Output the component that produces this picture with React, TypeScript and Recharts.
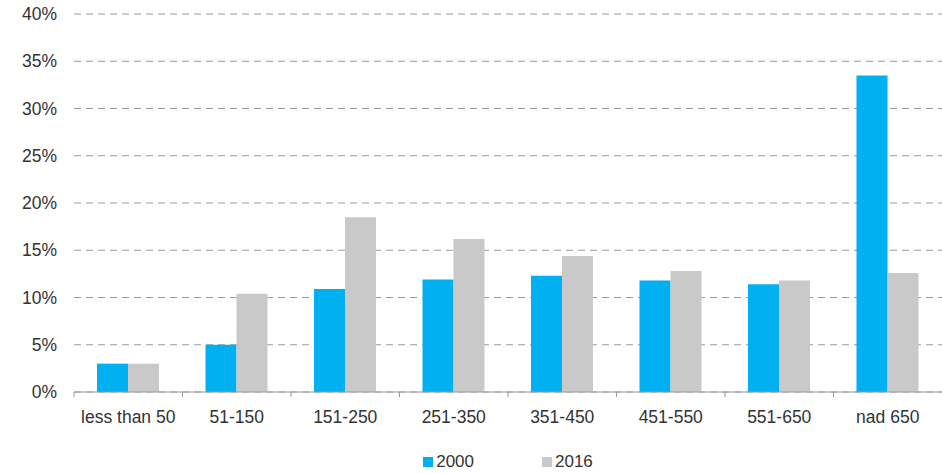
import React from 'react';
import {
  BarChart,
  Bar,
  XAxis,
  YAxis,
  CartesianGrid,
  Legend,
} from 'recharts';

const categories = [
  'less than 50',
  '51-150',
  '151-250',
  '251-350',
  '351-450',
  '451-550',
  '551-650',
  'nad 650',
];
const share2000 = [3.0, 5.0, 10.9, 11.9, 12.3, 11.8, 11.4, 33.5];
const share2016 = [3.0, 10.4, 18.5, 16.2, 14.4, 12.8, 11.8, 12.6];
const yTicks = [0, 5, 10, 15, 20, 25, 30, 35, 40];

const BLUE = '#00B0F0';
const GREY = '#C9C9C9';
const FONT = '"Liberation Sans", Arial, sans-serif';

const chartData = categories.map((name, i) => ({
  name,
  y2000: share2000[i],
  y2016: share2016[i],
}));

// tick mark sits on the category boundary, label in the middle
const CategoryTick = (props: any) => {
  const { x, y, payload } = props;
  const half = payload?.offset ?? 0;
  return (
    <g>
      <line x1={x - half} x2={x - half} y1={y} y2={y + 5} stroke="#999" />
      <text
        x={x}
        y={y + 19}
        dy="0.71em"
        textAnchor="middle"
        fill="#333"
        fontSize={17.5}
        fontFamily={FONT}
      >
        {payload.value}
      </text>
    </g>
  );
};

const LegendContent = () => (
  <div
    style={{
      display: 'flex',
      justifyContent: 'center',
      alignItems: 'center',
      height: 22,
      paddingLeft: 74,
      gap: 68,
      fontFamily: FONT,
      fontSize: 17,
      color: '#333',
    }}
  >
    {[
      { label: '2000', color: BLUE },
      { label: '2016', color: GREY },
    ].map((item) => (
      <div key={item.label} style={{ display: 'flex', alignItems: 'center' }}>
        <span
          style={{
            width: 10,
            height: 10,
            background: item.color,
            display: 'inline-block',
            marginRight: 3,
          }}
        />
        <span>{item.label}</span>
      </div>
    ))}
  </div>
);

export default function App() {
  return (
    <div style={{ position: 'absolute', left: 0, top: 0 }}>
      <BarChart
        width={942}
        height={473}
        data={chartData}
        margin={{ top: 14, right: 0, bottom: 0, left: 0 }}
        barGap={0}
      >
        <CartesianGrid
          vertical={false}
          stroke="#9a9a9a"
          strokeDasharray="7 5"
        />
        <XAxis
          dataKey="name"
          height={59}
          tickSize={0}
          tickMargin={0}
          axisLine={{ stroke: '#999' }}
          tickLine={false}
          tick={<CategoryTick />}
          interval={0}
        />
        <YAxis
          domain={[0, 40]}
          ticks={yTicks}
          width={74}
          axisLine={false}
          tickLine={false}
          tickSize={0}
          tickMargin={17}
          tickFormatter={(v: number) => `${v}%`}
          tick={{ fill: '#333', fontSize: 17.5, fontFamily: FONT }}
          interval={0}
        />
        <Legend verticalAlign="bottom" content={<LegendContent />} />
        <Bar dataKey="y2000" name="2000" fill={BLUE} barSize={31} isAnimationActive={false} />
        <Bar dataKey="y2016" name="2016" fill={GREY} barSize={31} isAnimationActive={false} />
      </BarChart>
    </div>
  );
}
